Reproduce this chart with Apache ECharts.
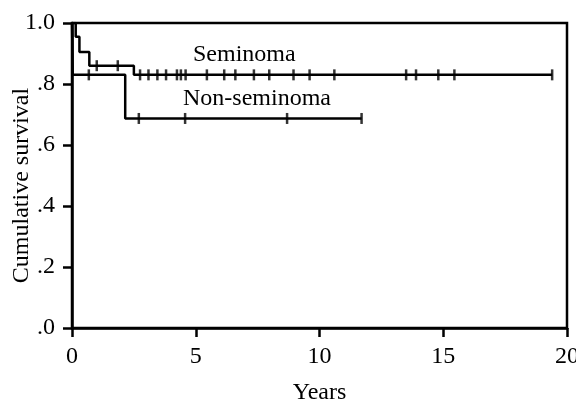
<!DOCTYPE html>
<html>
<head>
<meta charset="utf-8">
<script src="https://cdn.jsdelivr.net/npm/echarts@6/dist/echarts.min.js"></script>
<style>html,body{margin:0;padding:0;background:#fff;}#c{width:576px;height:407px;}</style>
</head>
<body>
<div id="c"></div>
<script>
// Kaplan-Meier step data (time in years, cumulative survival after that time)
const semTimes = [0, 0.15, 0.3, 0.7, 2.5, 19.4];
const semSurv  = [1.0, 0.955, 0.905, 0.86, 0.83, 0.83];
const nonTimes = [0, 0.03, 2.15, 11.7];
const nonSurv  = [1.0, 0.83, 0.687, 0.687];
// censored observations (years)
const semCensored = [1.0, 1.85, 2.75, 3.09, 3.45, 3.8, 4.24, 4.4, 4.59, 5.45, 6.15, 6.6, 7.35, 7.97, 8.95, 9.6, 10.6, 13.5, 13.9, 14.8, 15.45, 19.4];
const nonCensored = [0.68, 2.7, 4.57, 8.69, 11.7];
const xTicks = [0, 5, 10, 15, 20];
const yTickLabels = ['.0', '.2', '.4', '.6', '.8', '1.0'];
const seriesNames = ['Seminoma', 'Non-seminoma'];

function survAt(times, surv, t) {
  let v = surv[0];
  for (let i = 0; i < times.length; i++) { if (times[i] <= t) v = surv[i]; }
  return v;
}
const font = '"Liberation Serif", "Times New Roman", Times, serif';
const chart = echarts.init(document.getElementById('c'), null, {renderer: 'canvas'});
chart.setOption({
  animation: false,
  backgroundColor: '#fff',
  grid: {left: 72, right: 9, top: 23, bottom: 79, containLabel: false, outerBoundsMode: 'none',
         show: true, borderColor: '#000', borderWidth: 2.5},
  xAxis: {
    type: 'value', min: xTicks[0], max: xTicks[xTicks.length - 1], interval: 5,
    name: 'Years', nameLocation: 'middle', nameGap: 53, nameMoveOverlap: false,
    nameTextStyle: {fontFamily: font, fontSize: 24, color: '#000'},
    axisLine: {lineStyle: {color: '#000', width: 2.5}},
    axisTick: {show: true, inside: false, length: 9, lineStyle: {color: '#000', width: 2.5}},
    axisLabel: {fontFamily: font, fontSize: 24, color: '#000', margin: 17},
    splitLine: {show: false}
  },
  yAxis: {
    type: 'value', min: 0, max: 1, interval: 0.2,
    name: 'Cumulative survival', nameLocation: 'middle', nameGap: 38, nameRotate: 90, nameMoveOverlap: false,
    nameTextStyle: {fontFamily: font, fontSize: 24, color: '#000', padding: [0, 20, 0, 0]},
    axisLine: {show: true, lineStyle: {color: '#000', width: 2.5}},
    axisTick: {show: true, inside: false, length: 9, lineStyle: {color: '#000', width: 2.5}},
    axisLabel: {fontFamily: font, fontSize: 24, color: '#000', margin: 17,
      formatter: v => yTickLabels[Math.round(v / 0.2)]},
    splitLine: {show: false}
  },
  graphic: [
    {type: 'text', left: 193, top: 43, style: {text: seriesNames[0], fontFamily: font, fontSize: 24, fill: '#000'}},
    {type: 'text', left: 183, top: 87, style: {text: seriesNames[1], fontFamily: font, fontSize: 24, fill: '#000'}}
  ],
  series: [
    {name: seriesNames[0], type: 'line', step: 'end', showSymbol: false, silent: true,
     lineStyle: {color: '#000', width: 2.5}, data: semTimes.map((t, i) => [t, semSurv[i]])},
    {name: seriesNames[1], type: 'line', step: 'end', showSymbol: false, silent: true,
     lineStyle: {color: '#000', width: 2.5}, data: nonTimes.map((t, i) => [t, nonSurv[i]])},
    {type: 'scatter', symbol: 'rect', symbolSize: [2.5, 11], itemStyle: {color: '#000'}, silent: true,
     data: semCensored.map(t => [t, survAt(semTimes, semSurv, t)])},
    {type: 'scatter', symbol: 'rect', symbolSize: [2.5, 11], itemStyle: {color: '#000'}, silent: true,
     data: nonCensored.map(t => [t, survAt(nonTimes, nonSurv, t)])}
  ]
});
</script>
</body>
</html>
